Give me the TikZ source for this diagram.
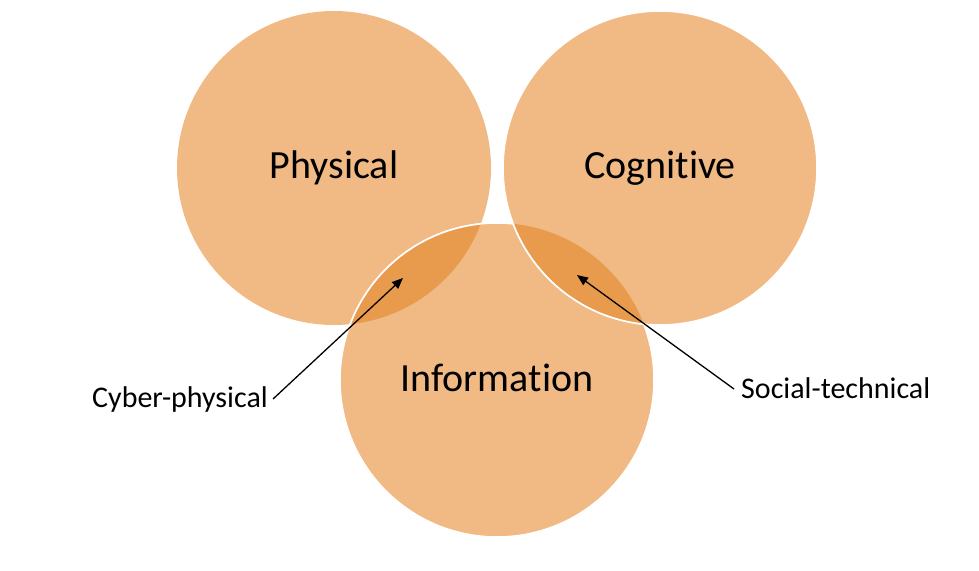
\documentclass[tikz,border=0pt]{standalone}
\usepackage{fontspec}
\setmainfont{Carlito}[RawFeature={-liga}]
\usepackage{tikz}
\usetikzlibrary{arrows.meta, positioning}
\definecolor{petal}{HTML}{F1BA84}
\definecolor{petalDark}{HTML}{E89A4D}
\tikzset{
    sphere/.style={fill=petal},
    rim/.style={draw=white, line width=1.6pt},
    lens/.style={fill=petalDark},
    bigLabel/.style={font=\fontsize{40}{46}\selectfont, text=black, inner sep=0pt},
    smallLabel/.style={font=\fontsize{30}{34}\selectfont, text=black, inner sep=0pt},
    arrow/.style={-{Triangle[length=11pt, width=9pt]}, line width=1.3pt}
}
\def\rad{157pt}

\begin{document}
\begin{tikzpicture}[x=1pt, y=-1pt]
    \useasboundingbox (0,0) rectangle (979,570);

    % Centres
    \coordinate (phys) at (334,168);
    \coordinate (cogn) at (660,168);
    \coordinate (info) at (497,380);

    % Circles
    \fill[sphere] (phys) circle[radius=\rad];
    \fill[sphere] (info) circle[radius=\rad];
    \draw[rim] (info) circle[radius=\rad];
    \fill[sphere] (cogn) circle[radius=\rad];
    \draw[rim] (cogn) circle[radius=\rad];

    % Overlaps
    \begin{scope}
        \clip (phys) circle[radius=\rad];
        \fill[lens] (info) circle[radius=\rad];
        \draw[rim] (info) circle[radius=\rad];
    \end{scope}
    \begin{scope}
        \clip (info) circle[radius=\rad];
        \fill[lens] (cogn) circle[radius=\rad];
        \draw[rim] (cogn) circle[radius=\rad];
    \end{scope}

    % Labels
    \node[bigLabel] (physLabel) at (334,168) {Physical};
    \node[bigLabel] (cognLabel) at (660,168) {Cognitive};
    \node[bigLabel] (infoLabel) at (497,378) {Information};

    \node[smallLabel, anchor=east] (cyber) at (268,399) {Cyber-physical};
    \node[smallLabel, anchor=west] (social) at (741,388) {Social-technical};

    % Pointers
    \coordinate (cyberTip) at (403,278);
    \coordinate (socialTip) at (577,275);
    \draw[arrow] ([xshift=5pt]cyber.east) -- (cyberTip);
    \draw[arrow] ([xshift=-7pt, yshift=-1pt]social.west) -- (socialTip);
\end{tikzpicture}
\end{document}
